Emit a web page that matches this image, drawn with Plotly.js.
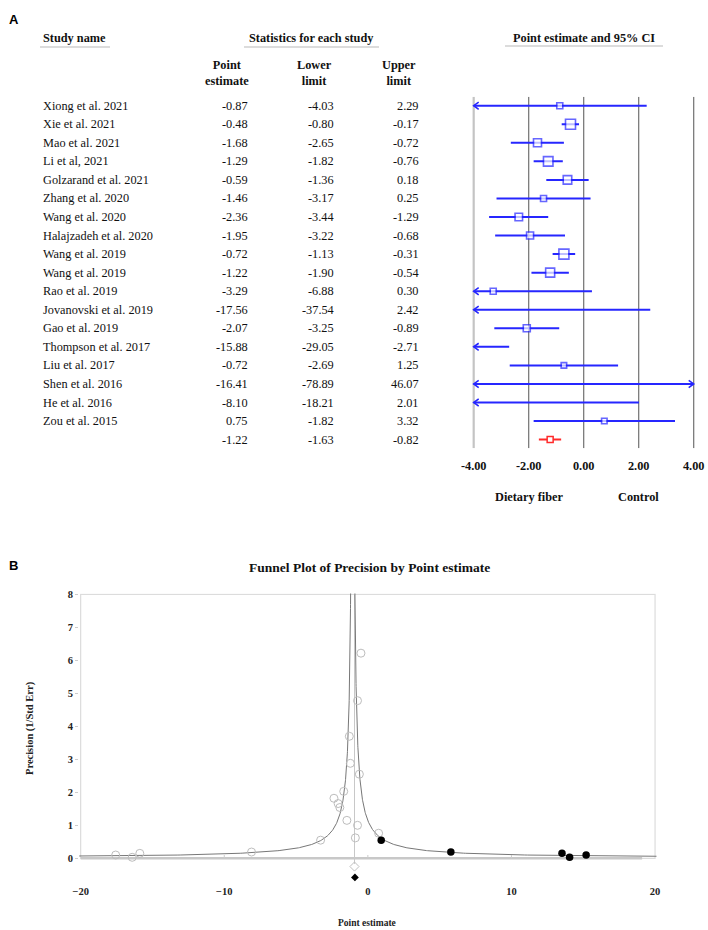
<!DOCTYPE html>
<html><head><meta charset="utf-8">
<script src="https://cdn.plot.ly/plotly-3.0.1.min.js"></script>
<style>html,body{margin:0;padding:0;background:#fff}#chart{width:708px;height:930px}</style>
</head><body><div id="chart"></div>
<script>
// ---------------- DATA ----------------
const studyNames = ["Xiong et al. 2021","Xie et al. 2021","Mao et al. 2021","Li et al, 2021","Golzarand et al. 2021",
  "Zhang et al. 2020","Wang et al. 2020","Halajzadeh et al. 2020","Wang et al. 2019","Wang et al. 2019",
  "Rao et al. 2019","Jovanovski et al. 2019","Gao et al. 2019","Thompson et al. 2017","Liu et al. 2017",
  "Shen et al. 2016","He et al. 2016","Zou et al. 2015"];
const pointEstimate = [-0.87,-0.48,-1.68,-1.29,-0.59,-1.46,-2.36,-1.95,-0.72,-1.22,-3.29,-17.56,-2.07,-15.88,-0.72,-16.41,-8.10,0.75];
const lowerLimit    = [-4.03,-0.80,-2.65,-1.82,-1.36,-3.17,-3.44,-3.22,-1.13,-1.90,-6.88,-37.54,-3.25,-29.05,-2.69,-78.89,-18.21,-1.82];
const upperLimit    = [2.29,-0.17,-0.72,-0.76,0.18,0.25,-1.29,-0.68,-0.31,-0.54,0.30,2.42,-0.89,-2.71,1.25,46.07,2.01,3.32];
const summaryEstimate = -1.22, summaryLower = -1.63, summaryUpper = -0.82;

const forestTicks = [-4,-2,0,2,4];
const forestTickLabels = ["-4.00","-2.00","0.00","2.00","4.00"];
const favourLabels = ["Dietary fiber","Control"];
const favourAt = [-2, 2];

// funnel plot
const funnelPrecision = [0.62,6.22,2.03,3.70,2.55,1.15,1.82,1.54,4.78,2.88,0.55,0.10,1.66,0.15,1.00,0.03,0.19,0.76];
const imputedEstimate = [0.93,5.78,13.52,14.05,15.20];
const imputedPrecision = [0.55,0.19,0.15,0.03,0.10];
const observedPooled = -0.93;
const adjustedPooled = -0.90;
const funnelXTicks = [-20,-10,0,10,20];
const funnelYTicks = [0,1,2,3,4,5,6,7,8];

// ---------------- STYLE / LAYOUT HELPERS ----------------
const W = 708, H = 930;
const px = v => v / W;
const py = v => 1 - v / H;
const SERIF = "Liberation Serif, Times New Roman, serif";
const blue = "#2626ff", red = "#ff2a2a";
const boxSizePx = [6,10,8,9.5,8.5,6,7.5,7,10,9,6,6,7,6,5.5,6,6,5.5];
const nRows = studyNames.length; // summary row index = nRows

// forest axis geometry
const fxPerUnit = 27.5, fx0 = 583.7;     // pixel of 0.00
const fRange = [-4.1, 4.1];
const rowTop = 105.7, rowStep = 18.55;
const yTopPx = 96.7, yBotPx = 448.3;
const yRange = [(yBotPx - rowTop) / rowStep, (yTopPx - rowTop) / rowStep];

const traces = [];
const annotations = [];
const shapes = [];

// vertical reference lines of forest
forestTicks.forEach(v => {
  shapes.push({type:"line", xref:"x", yref:"y", x0:v, x1:v, y0:yRange[1], y1:yRange[0],
    line:{color: v === -4 ? "#c4c4c4" : "#707070", width: v === -4 ? 2.2 : 1.2}, layer:"below"});
});

function ciRow(lo, hi, est, row, color) {
  const a = Math.max(lo, forestTicks[0]), b = Math.min(hi, forestTicks[forestTicks.length-1]);
  traces.push({type:"scatter", mode:"lines", x:[a,b], y:[row,row], xaxis:"x", yaxis:"y",
    line:{color:color, width:2}, hoverinfo:"skip"});
  const ax = 5 / fxPerUnit, ay = 3.6 / rowStep;
  if (lo < forestTicks[0]) {
    const t = forestTicks[0];
    traces.push({type:"scatter", mode:"lines", x:[t+ax,t,t+ax], y:[row-ay,row,row+ay], xaxis:"x", yaxis:"y",
      line:{color:color, width:1.6}, hoverinfo:"skip"});
  }
  if (hi > forestTicks[forestTicks.length-1]) {
    const t = forestTicks[forestTicks.length-1];
    traces.push({type:"scatter", mode:"lines", x:[t-ax,t,t-ax], y:[row-ay,row,row+ay], xaxis:"x", yaxis:"y",
      line:{color:color, width:1.6}, hoverinfo:"skip"});
  }
}
for (let i = 0; i < nRows; i++) ciRow(lowerLimit[i], upperLimit[i], pointEstimate[i], i, blue);
ciRow(summaryLower, summaryUpper, summaryEstimate, nRows, red);

traces.push({type:"scatter", mode:"markers", x:pointEstimate, y:studyNames.map((_,i)=>i), xaxis:"x", yaxis:"y",
  marker:{symbol:"square", size:boxSizePx, color:"#ffffff", line:{color:blue, width:1.6}}, hoverinfo:"skip"});
traces.push({type:"scatter", mode:"markers", x:[summaryEstimate], y:[nRows], xaxis:"x", yaxis:"y",
  marker:{symbol:"square", size:6, color:"#ffffff", line:{color:red, width:1.5}}, hoverinfo:"skip"});

// table text
const tfont = {family:SERIF, size:12.3, color:"#111"};
const bfont = {family:SERIF, size:12.3, color:"#111", weight:"bold"};
const valCols = [[pointEstimate,250],[lowerLimit,335.7],[upperLimit,420.7]];
for (let i = 0; i < nRows; i++) {
  annotations.push({xref:"paper", yref:"y", x:px(41), y:i, text:studyNames[i], showarrow:false, xanchor:"left", yanchor:"middle", font:tfont});
  valCols.forEach(([arr,xr]) => annotations.push({xref:"paper", yref:"y", x:px(xr), y:i, text:arr[i].toFixed(2),
    showarrow:false, xanchor:"right", yanchor:"middle", font:tfont}));
}
[[summaryEstimate,250],[summaryLower,335.7],[summaryUpper,420.7]].forEach(([v,xr]) =>
  annotations.push({xref:"paper", yref:"y", x:px(xr), y:nRows, text:v.toFixed(2), showarrow:false, xanchor:"right", yanchor:"middle", font:tfont}));

// headers
annotations.push({xref:"paper", yref:"paper", x:px(41), y:py(38.5), text:"Study name", showarrow:false, xanchor:"left", yanchor:"middle", font:bfont});
annotations.push({xref:"paper", yref:"paper", x:px(311), y:py(38.5), text:"Statistics for each study", showarrow:false, xanchor:"center", yanchor:"middle", font:bfont});
annotations.push({xref:"paper", yref:"paper", x:px(584), y:py(38), text:"Point estimate and 95% CI", showarrow:false, xanchor:"center", yanchor:"middle", font:bfont});
[["Point<br>estimate",226.5],["Lower<br>limit",314.3],["Upper<br>limit",399]].forEach(([t,x]) =>
  annotations.push({xref:"paper", yref:"paper", x:px(x), y:py(72.5), text:t, showarrow:false, xanchor:"center", yanchor:"middle", font:bfont}));
favourLabels.forEach((t,i) => annotations.push({xref:"x", yref:"paper", x:favourAt[i], y:py(497), text:t, showarrow:false, xanchor:"center", yanchor:"middle", font:bfont}));
// underlines
[[40,110,47],[244,379,47],[505,663,46]].forEach(([a,b,y]) =>
  shapes.push({type:"line", xref:"paper", yref:"paper", x0:px(a), x1:px(b), y0:py(y), y1:py(y), line:{color:"#d0d0d0", width:1.5}}));

// panel letters
annotations.push({xref:"paper", yref:"paper", x:px(7), y:py(20), text:"A", showarrow:false, xanchor:"left", yanchor:"middle", font:{family:"Liberation Sans, Arial", size:13, color:"#000", weight:"bold"}});
annotations.push({xref:"paper", yref:"paper", x:px(7), y:py(565), text:"B", showarrow:false, xanchor:"left", yanchor:"middle", font:{family:"Liberation Sans, Arial", size:13, color:"#000", weight:"bold"}});

// ---------------- FUNNEL ----------------
const fnX0 = 367.85, fnXPer = 14.36, fnY0 = 858.3, fnYPer = 32.98;
const fnXRange = [-20.1, 20.1], fnYRange = [-0.75, 8.03];
const fnDomX = [px(fnX0 + fnXRange[0]*fnXPer), px(fnX0 + fnXRange[1]*fnXPer)];
const fnDomY = [py(fnY0 - fnYRange[0]*fnYPer), py(fnY0 - fnYRange[1]*fnYPer)];

// frame
shapes.push({type:"rect", xref:"x2", yref:"y2", x0:-20, x1:20, y0:0, y1:8, line:{color:"#dcdcdc", width:1.2}, layer:"below"});
shapes.push({type:"line", xref:"x2", yref:"y2", x0:-20, x1:19.1, y0:0, y1:0, line:{color:"#c8c8c8", width:2.5}, layer:"below"});
[-10,0,10].forEach(v => shapes.push({type:"line", xref:"x2", yref:"y2", x0:v, x1:v, y0:0, y1:0.1, line:{color:"#cccccc", width:1}}));
// pooled line
traces.push({type:"scatter", mode:"lines", x:[observedPooled, observedPooled], y:[-0.17, 8], xaxis:"x2", yaxis:"y2",
  line:{color:"#c8c8c8", width:1}, hoverinfo:"skip"});
// funnel limits (pseudo-confidence limits around pooled estimate)
const funnelCenter = -1.05, funnelHalf = 1.2;
const yCurve = [];
for (let t = 0; t <= 300; t++) yCurve.push(0.05 * Math.pow(8.1/0.05, t/300));
traces.push({type:"scatter", mode:"lines", x:yCurve.map(y => funnelCenter - funnelHalf/y), y:yCurve, xaxis:"x2", yaxis:"y2",
  line:{color:"#777", width:1}, hoverinfo:"skip"});
traces.push({type:"scatter", mode:"lines", x:yCurve.map(y => funnelCenter + funnelHalf/y), y:yCurve, xaxis:"x2", yaxis:"y2",
  line:{color:"#777", width:1}, hoverinfo:"skip"});
// observed studies
traces.push({type:"scatter", mode:"markers", x:pointEstimate, y:funnelPrecision, xaxis:"x2", yaxis:"y2",
  marker:{symbol:"circle-open", size:8, color:"#bdbdbd", line:{width:1}}, hoverinfo:"skip"});
// imputed studies
traces.push({type:"scatter", mode:"markers", x:imputedEstimate, y:imputedPrecision, xaxis:"x2", yaxis:"y2",
  marker:{symbol:"circle", size:7.5, color:"#000"}, hoverinfo:"skip"});
// diamonds
traces.push({type:"scatter", mode:"markers", x:[observedPooled], y:[-0.25], xaxis:"x2", yaxis:"y2",
  marker:{symbol:"diamond-open", size:7, color:"#c0c0c0", line:{width:1}}, hoverinfo:"skip", cliponaxis:false});
traces.push({type:"scatter", mode:"markers", x:[adjustedPooled], y:[-0.58], xaxis:"x2", yaxis:"y2",
  marker:{symbol:"diamond", size:6, color:"#000"}, hoverinfo:"skip", cliponaxis:false});

const sfont = {family:SERIF, size:10.5, color:"#222", weight:"bold"};
annotations.push({xref:"paper", yref:"paper", x:px(369), y:py(567), text:"Funnel Plot of Precision by Point estimate", showarrow:false, xanchor:"center", yanchor:"middle",
  font:{family:SERIF, size:13.5, color:"#111", weight:"bold"}});
annotations.push({xref:"paper", yref:"paper", x:px(30), y:py(728), text:"Precision (1/Std Err)", textangle:-90, showarrow:false, xanchor:"center", yanchor:"middle", font:{family:SERIF, size:10.5, color:"#222", weight:"bold"}});
annotations.push({xref:"paper", yref:"paper", x:px(367), y:py(923), text:"Point estimate", showarrow:false, xanchor:"center", yanchor:"middle", font:{family:SERIF, size:9.5, color:"#222", weight:"bold"}});

const layout = {
  width: W, height: H, margin:{l:0,r:0,t:0,b:0}, showlegend:false,
  paper_bgcolor:"#fff", plot_bgcolor:"rgba(0,0,0,0)",
  xaxis:{domain:[px(fx0 + fRange[0]*fxPerUnit), px(fx0 + fRange[1]*fxPerUnit)], range:fRange, anchor:"y",
    tickvals:forestTicks, ticktext:forestTickLabels, showgrid:false, zeroline:false, showline:false,
    ticks:"outside", ticklen:6, tickcolor:"rgba(0,0,0,0)", tickfont:bfont, fixedrange:true},
  yaxis:{domain:[py(yBotPx), py(yTopPx)], range:yRange, anchor:"x", showgrid:false, zeroline:false,
    showline:false, showticklabels:false, ticks:"", fixedrange:true},
  xaxis2:{domain:fnDomX, range:fnXRange, anchor:"y2", tickvals:funnelXTicks, showgrid:false, zeroline:false,
    showline:false, ticks:"", tickfont:sfont, fixedrange:true},
  yaxis2:{domain:fnDomY, range:fnYRange, anchor:"x2", tickvals:funnelYTicks, showgrid:false, zeroline:false,
    showline:false, ticks:"outside", ticklen:3, tickcolor:"#cccccc", tickfont:sfont, fixedrange:true},
  shapes: shapes, annotations: annotations
};
Plotly.newPlot("chart", traces, layout, {staticPlot:true, displayModeBar:false});
</script></body></html>
